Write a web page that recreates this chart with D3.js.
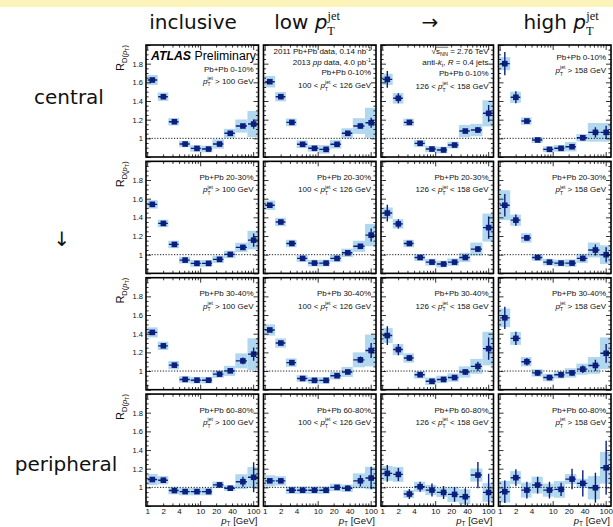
<!DOCTYPE html>
<html>
<head>
<meta charset="utf-8">
<script src="https://cdn.jsdelivr.net/npm/d3@7"></script>
<style>
  html, body { margin: 0; padding: 0; background: #fff; }
  svg { display: block; }
</style>
</head>
<body>
<svg id="chart" width="613" height="527"></svg>
<script>
// ---- track pT bins [GeV] ----
const binLow    = [1.0, 1.58, 2.51, 4.0, 6.5, 10.5, 17, 28, 46, 78];
const binHigh   = [1.58, 2.51, 4.0, 6.5, 10.5, 17, 28, 46, 78, 126];
const binCenter = [1.25, 2.02, 3.26, 5.2, 8.7, 14.4, 23.2, 37, 64, 102];

// ---- panel labels ----
const columnHeaders = ["inclusive", "low", "\u2192", "high"];
const rowLabels = ["central", "\u2193", "", "peripheral"];
const centralityBins = ["0-10%", "20-30%", "30-40%", "60-80%"];
const jetLow  = [100, 100, 126, 158];
const jetHigh = [null, 126, 158, null];
const xTickLabels = [1, 2, 4, 10, 20, 40, 100];
const yTickLabels = [1, 1.2, 1.4, 1.6, 1.8];

// ---- R_D(pT): one row per centrality, one sub-array per jet-pT selection ----
const ratio_0_10 = [
  [1.625, 1.446, 1.178, 0.939, 0.892, 0.885, 0.939, 1.054, 1.132, 1.153],
  [1.607, 1.446, 1.171, 0.936, 0.893, 0.882, 0.936, 1.054, 1.132, 1.167],
  [1.632, 1.429, 1.171, 0.946, 0.885, 0.875, 0.928, 1.078, 1.089, 1.268],
  [1.800, 1.440, 1.185, 0.982, 0.882, 0.893, 0.910, 1.006, 1.064, 1.064]
];
const stat_0_10 = [
  [0.01, 0.01, 0.01, 0.005, 0.005, 0.005, 0.008, 0.01, 0.02, 0.05],
  [0.01, 0.01, 0.01, 0.005, 0.005, 0.005, 0.008, 0.01, 0.025, 0.054],
  [0.09, 0.054, 0.02, 0.01, 0.01, 0.01, 0.015, 0.02, 0.03, 0.09],
  [0.125, 0.064, 0.02, 0.02, 0.02, 0.02, 0.02, 0.03, 0.054, 0.07]
];
const sys_0_10 = [
  [0.054, 0.045, 0.04, 0.034, 0.035, 0.036, 0.05, 0.048, 0.07, 0.14],
  [0.062, 0.05, 0.041, 0.041, 0.035, 0.045, 0.045, 0.054, 0.084, 0.16],
  [0.06, 0.057, 0.04, 0.036, 0.034, 0.036, 0.036, 0.066, 0.066, 0.14],
  [0.07, 0.06, 0.04, 0.032, 0.03, 0.036, 0.05, 0.04, 0.1, 0.1]
];

const ratio_20_30 = [
  [1.539, 1.335, 1.110, 0.942, 0.907, 0.907, 0.950, 1.003, 1.078, 1.156],
  [1.530, 1.350, 1.120, 0.960, 0.910, 0.910, 0.960, 1.020, 1.090, 1.210],
  [1.446, 1.330, 1.120, 0.970, 0.920, 0.900, 0.920, 0.970, 1.060, 1.290],
  [1.530, 1.370, 1.180, 0.970, 0.920, 0.910, 0.910, 0.960, 1.050, 1.000]
];
const stat_20_30 = [
  [0.01, 0.01, 0.01, 0.005, 0.005, 0.005, 0.008, 0.01, 0.02, 0.07],
  [0.01, 0.01, 0.01, 0.005, 0.005, 0.005, 0.008, 0.01, 0.025, 0.07],
  [0.09, 0.05, 0.02, 0.01, 0.01, 0.01, 0.015, 0.02, 0.03, 0.12],
  [0.12, 0.06, 0.03, 0.02, 0.02, 0.02, 0.02, 0.03, 0.06, 0.08]
];
const sys_20_30 = [
  [0.045, 0.04, 0.04, 0.036, 0.036, 0.036, 0.04, 0.04, 0.05, 0.1],
  [0.05, 0.045, 0.04, 0.036, 0.036, 0.036, 0.04, 0.045, 0.06, 0.12],
  [0.06, 0.05, 0.04, 0.036, 0.036, 0.036, 0.04, 0.05, 0.07, 0.15],
  [0.16, 0.06, 0.05, 0.036, 0.036, 0.036, 0.04, 0.05, 0.08, 0.1]
];

const ratio_30_40 = [
  [1.414, 1.270, 1.063, 0.910, 0.902, 0.902, 0.967, 1.002, 1.109, 1.181],
  [1.440, 1.300, 1.090, 0.920, 0.900, 0.900, 0.950, 0.990, 1.120, 1.220],
  [1.380, 1.230, 1.140, 0.960, 0.890, 0.910, 0.930, 0.990, 1.050, 1.240],
  [1.570, 1.350, 1.100, 0.980, 0.930, 0.960, 0.980, 1.020, 1.060, 1.190]
];
const stat_30_40 = [
  [0.01, 0.01, 0.01, 0.005, 0.005, 0.005, 0.008, 0.01, 0.035, 0.07],
  [0.01, 0.01, 0.01, 0.005, 0.005, 0.005, 0.008, 0.015, 0.035, 0.08],
  [0.10, 0.06, 0.03, 0.02, 0.02, 0.02, 0.02, 0.03, 0.05, 0.12],
  [0.12, 0.07, 0.04, 0.03, 0.03, 0.03, 0.03, 0.04, 0.06, 0.10]
];
const sys_30_40 = [
  [0.054, 0.045, 0.045, 0.035, 0.035, 0.035, 0.04, 0.054, 0.08, 0.17],
  [0.06, 0.05, 0.045, 0.035, 0.035, 0.035, 0.04, 0.054, 0.08, 0.17],
  [0.08, 0.06, 0.05, 0.04, 0.04, 0.04, 0.045, 0.06, 0.08, 0.18],
  [0.1, 0.07, 0.05, 0.04, 0.04, 0.04, 0.05, 0.06, 0.09, 0.17]
];

const ratio_60_80 = [
  [1.084, 1.077, 0.966, 0.955, 0.955, 0.955, 1.027, 0.991, 1.061, 1.108],
  [1.070, 1.070, 0.970, 0.970, 0.970, 0.970, 1.000, 0.990, 1.070, 1.100],
  [1.150, 1.139, 0.929, 1.007, 0.971, 0.946, 0.925, 0.900, 1.132, 0.946],
  [0.954, 1.104, 0.971, 1.025, 0.971, 0.979, 1.089, 1.043, 0.996, 1.210]
];
const stat_60_80 = [
  [0.02, 0.02, 0.01, 0.01, 0.01, 0.01, 0.015, 0.025, 0.054, 0.16],
  [0.02, 0.02, 0.01, 0.01, 0.01, 0.01, 0.015, 0.03, 0.06, 0.12],
  [0.09, 0.07, 0.054, 0.054, 0.07, 0.07, 0.08, 0.09, 0.14, 0.2],
  [0.12, 0.09, 0.09, 0.09, 0.09, 0.07, 0.11, 0.14, 0.16, 0.29]
];
const sys_60_80 = [
  [0.06, 0.045, 0.04, 0.04, 0.04, 0.04, 0.035, 0.03, 0.08, 0.11],
  [0.06, 0.05, 0.04, 0.04, 0.04, 0.04, 0.04, 0.04, 0.08, 0.12],
  [0.08, 0.08, 0.043, 0.054, 0.054, 0.05, 0.08, 0.08, 0.07, 0.1],
  [0.115, 0.07, 0.08, 0.09, 0.07, 0.09, 0.054, 0.05, 0.125, 0.17]
];

const ratioRows = [ratio_0_10, ratio_20_30, ratio_30_40, ratio_60_80];
const statRows  = [stat_0_10, stat_20_30, stat_30_40, stat_60_80];
const sysRows   = [sys_0_10, sys_20_30, sys_30_40, sys_60_80];

// ---- layout ----
const panelW = 112.5, panelH = 112;
const left0 = 146, top0 = 45, stepX = 117.5, stepY = 116.35;
const sans = "'Liberation Sans', Arial, Helvetica, sans-serif";
const serif = "'Liberation Serif', 'DejaVu Serif', serif";
const navy = "#0c1f7e";
const sysFill = "#b1d8ee";

const svg = d3.select("#chart");

// thin banner along the top edge
svg.append("rect").attr("x", 0).attr("y", 0).attr("width", 613).attr("height", 7)
  .attr("fill", "#fbf3b8");

// p_T^jet with stacked sub/superscript; returns the dy needed to get back to the baseline
function ptJet(t, fs, subFont) {
  t.append("tspan").attr("font-style", "italic").text("p");
  t.append("tspan").attr("font-size", fs * 0.62).attr("font-family", subFont || null)
    .attr("dy", fs * 0.32).text("T");
  t.append("tspan").attr("font-size", fs * 0.62).attr("font-family", subFont || null)
    .attr("dx", -fs * 0.62 * 0.6).attr("dy", -fs * 0.78).text("jet");
  return fs * 0.46;
}

// ---- column and row headings ----
const headFs = 20;
const headX = [193, 307, 430, 561];
columnHeaders.forEach((h, i) => {
  const t = svg.append("text").attr("x", headX[i]).attr("y", 29)
    .attr("text-anchor", "middle").attr("font-family", "'DejaVu Sans', sans-serif")
    .attr("font-size", headFs).attr("fill", "#111");
  if (h === "low" || h === "high") {
    t.append("tspan").text(h + " ");
    const back = ptJet(t, headFs, serif);
    t.append("tspan").attr("dy", back).text("");
  } else {
    t.text(h);
  }
});
const rowLabelX = [69, 62, 0, 66];
const rowLabelY = [104, 246, 0, 471];
rowLabels.forEach((r, j) => {
  if (!r) return;
  svg.append("text").attr("x", rowLabelX[j]).attr("y", rowLabelY[j]).attr("text-anchor", "middle")
    .attr("font-family", "'DejaVu Sans', sans-serif").attr("font-size", headFs)
    .attr("fill", "#111").text(r);
});

// ---- panels ----
const x = d3.scaleLog().domain([0.95, 126]).range([0, panelW]);
const y = d3.scaleLinear().domain([0.8, 2.0]).range([panelH, 0]);

const xMajor = [1, 10, 100];
const xMinor = [2, 3, 4, 5, 6, 7, 8, 9, 20, 30, 40, 50, 60, 70, 80, 90];
const yMajor = d3.range(0.8, 2.001, 0.2);
const yMinor = d3.range(0.85, 2.0, 0.05).filter(v => Math.abs(Math.round(v * 5) - v * 5) > 1e-6);

function tickAxis(g, axis, values, size, transform) {
  g.append("g").attr("transform", transform)
    .call(axis.tickValues(values).tickSize(size).tickFormat(""))
    .call(a => a.select(".domain").remove())
    .call(a => a.selectAll("line").attr("stroke", "#000").attr("stroke-width", 0.8));
}

for (let j = 0; j < 4; j++) {
  for (let i = 0; i < 4; i++) {
    const px = left0 + i * stepX, py = top0 + j * stepY;
    const g = svg.append("g").attr("transform", `translate(${px},${py})`);
    const vals = ratioRows[j][i], stat = statRows[j][i], sys = sysRows[j][i];
    const pts = vals.map((v, k) => ({
      v, s: stat[k], e: sys[k], lo: binLow[k], hi: binHigh[k], c: binCenter[k]
    }));

    const clipId = `clip-${j}-${i}`;
    g.append("clipPath").attr("id", clipId).append("rect")
      .attr("width", panelW).attr("height", panelH);
    const plot = g.append("g").attr("clip-path", `url(#${clipId})`);

    // systematic uncertainty boxes
    plot.selectAll("rect.sys").data(pts).join("rect").attr("class", "sys")
      .attr("x", d => x(d.lo)).attr("width", d => x(d.hi) - x(d.lo))
      .attr("y", d => y(d.v + d.e)).attr("height", d => y(d.v - d.e) - y(d.v + d.e))
      .attr("fill", sysFill);

    // unity reference
    plot.append("line").attr("x1", 0).attr("x2", panelW)
      .attr("y1", y(1)).attr("y2", y(1))
      .attr("stroke", "#000").attr("stroke-width", 0.9).attr("stroke-dasharray", "1.2,1.6");

    // bin-width bars and statistical errors
    plot.selectAll("line.xe").data(pts).join("line").attr("class", "xe")
      .attr("x1", d => x(d.lo) + 0.5).attr("x2", d => x(d.hi) - 0.5)
      .attr("y1", d => y(d.v)).attr("y2", d => y(d.v))
      .attr("stroke", navy).attr("stroke-width", 1.4);
    plot.selectAll("line.ye").data(pts).join("line").attr("class", "ye")
      .attr("x1", d => x(d.c)).attr("x2", d => x(d.c))
      .attr("y1", d => y(d.v - d.s)).attr("y2", d => y(d.v + d.s))
      .attr("stroke", navy).attr("stroke-width", 1.4);
    const ms = 5.6;
    plot.selectAll("rect.mk").data(pts).join("rect").attr("class", "mk")
      .attr("x", d => x(d.c) - ms / 2).attr("y", d => y(d.v) - ms / 2)
      .attr("width", ms).attr("height", ms).attr("fill", navy);

    // inward ticks on all four sides
    tickAxis(g, d3.axisBottom(x), xMajor, -5, `translate(0,${panelH})`);
    tickAxis(g, d3.axisBottom(x), xMinor, -2.6, `translate(0,${panelH})`);
    tickAxis(g, d3.axisTop(x), xMajor, -5, "translate(0,0)");
    tickAxis(g, d3.axisTop(x), xMinor, -2.6, "translate(0,0)");
    tickAxis(g, d3.axisLeft(y), yMajor, -5, "translate(0,0)");
    tickAxis(g, d3.axisLeft(y), yMinor, -2.6, "translate(0,0)");
    tickAxis(g, d3.axisRight(y), yMajor, -5, `translate(${panelW},0)`);
    tickAxis(g, d3.axisRight(y), yMinor, -2.6, `translate(${panelW},0)`);

    // frame
    g.append("rect").attr("width", panelW).attr("height", panelH)
      .attr("fill", "none").attr("stroke", "#000").attr("stroke-width", 1.6);

    // tick labels on the outer panels
    if (j === 3) {
      g.append("g").attr("transform", `translate(0,${panelH})`)
        .call(d3.axisBottom(x).tickValues(xTickLabels).tickSize(0).tickPadding(1.8)
          .tickFormat(d3.format("d")))
        .call(a => a.select(".domain").remove())
        .call(a => a.selectAll("text").attr("font-family", sans).attr("font-size", 8)
          .attr("fill", "#111"));
      const xt = g.append("text").attr("x", panelW - 1).attr("y", panelH + 18)
        .attr("text-anchor", "end").attr("font-family", sans).attr("font-size", 9.5)
        .attr("fill", "#111");
      xt.append("tspan").attr("font-style", "italic").text("p");
      xt.append("tspan").attr("font-size", 6.5).attr("dy", 1.5).text("T");
      xt.append("tspan").attr("dy", -1.5).text(" [GeV]");
    }
    if (i === 0) {
      g.append("g")
        .call(d3.axisLeft(y).tickValues(yTickLabels).tickSize(0).tickPadding(3)
          .tickFormat(d => d === 1 ? "1" : d3.format(".1f")(d)))
        .call(a => a.select(".domain").remove())
        .call(a => a.selectAll("text").attr("font-family", sans).attr("font-size", 7.5)
          .attr("fill", "#111"));
      const yt = g.append("text").attr("transform", "translate(-22,0) rotate(-90)")
        .attr("text-anchor", "end").attr("font-family", sans).attr("font-size", 11)
        .attr("fill", "#111");
      yt.append("tspan").text("R");
      yt.append("tspan").attr("font-size", 7.5).attr("dy", 3).text("D(");
      yt.append("tspan").attr("font-size", 7.5).attr("font-style", "italic").text("p");
      yt.append("tspan").attr("font-size", 5.5).attr("dy", 2).text("T");
      yt.append("tspan").attr("font-size", 7.5).attr("dy", -2).text(")");
    }

    // annotations
    const fs = 8;
    const rx = panelW - 5;
    function line(yy) {
      return g.append("text").attr("x", rx).attr("y", yy).attr("text-anchor", "end")
        .attr("font-family", sans).attr("font-size", fs).attr("fill", "#111");
    }
    function jetLine(yy) {
      const t = line(yy);
      const lo = jetLow[i], hi = jetHigh[i];
      if (hi === null) {
        const back = ptJet(t, fs);
        t.append("tspan").attr("dy", back).text(` > ${lo} GeV`);
      } else {
        t.append("tspan").text(`${lo} < `);
        const back = ptJet(t, fs);
        t.append("tspan").attr("dy", back).text(` < ${hi} GeV`);
      }
    }
    const cent = `Pb+Pb ${centralityBins[j]}`;
    if (j === 0 && i === 0) {
      const t = g.append("text").attr("x", 5).attr("y", 14.5).attr("font-family", sans)
        .attr("font-size", 12.3).attr("fill", "#000");
      t.append("tspan").attr("font-weight", "bold").attr("font-style", "italic").text("ATLAS");
      t.append("tspan").text(" Preliminary");
      line(27).text(cent);
      jetLine(38.5);
    } else if (j === 0 && i === 1) {
      const a = line(9);
      a.append("tspan").text("2011 Pb+Pb data, 0.14 nb");
      a.append("tspan").attr("font-size", 5.5).attr("dy", -3).text("-1");
      const b = line(19.5);
      b.append("tspan").text("2013 ");
      b.append("tspan").attr("font-style", "italic").text("pp");
      b.append("tspan").text(" data, 4.0 pb");
      b.append("tspan").attr("font-size", 5.5).attr("dy", -3).text("-1");
      line(30).text(cent);
      jetLine(43);
    } else if (j === 0 && i === 2) {
      const a = line(8.5);
      a.append("tspan").text("\u221A");
      a.append("tspan").text("s");
      a.append("tspan").attr("font-size", 5.5).attr("dy", 2).text("NN");
      a.append("tspan").attr("dy", -2).text(" = 2.76 TeV");
      // radical bar over s_NN
      const node = a.node();
      const s0 = node.getStartPositionOfChar(1), e0 = node.getEndPositionOfChar(3);
      g.append("line").attr("x1", s0.x - 0.3).attr("x2", e0.x + 0.3)
        .attr("y1", 8.5 - fs * 0.78).attr("y2", 8.5 - fs * 0.78)
        .attr("stroke", "#111").attr("stroke-width", 0.6);
      const b = line(19.5);
      b.append("tspan").text("anti-");
      b.append("tspan").attr("font-style", "italic").text("k");
      b.append("tspan").attr("font-size", 5.5).attr("dy", 2).text("t");
      b.append("tspan").attr("dy", -2).text(", ");
      b.append("tspan").attr("font-style", "italic").text("R");
      b.append("tspan").text(" = 0.4 jets");
      line(30.5).text(cent);
      jetLine(44);
    } else if (j === 0 && i === 3) {
      line(15).text(cent);
      jetLine(28);
    } else {
      line(18.5).text(cent);
      jetLine(31);
    }
  }
}
</script>
</body>
</html>
